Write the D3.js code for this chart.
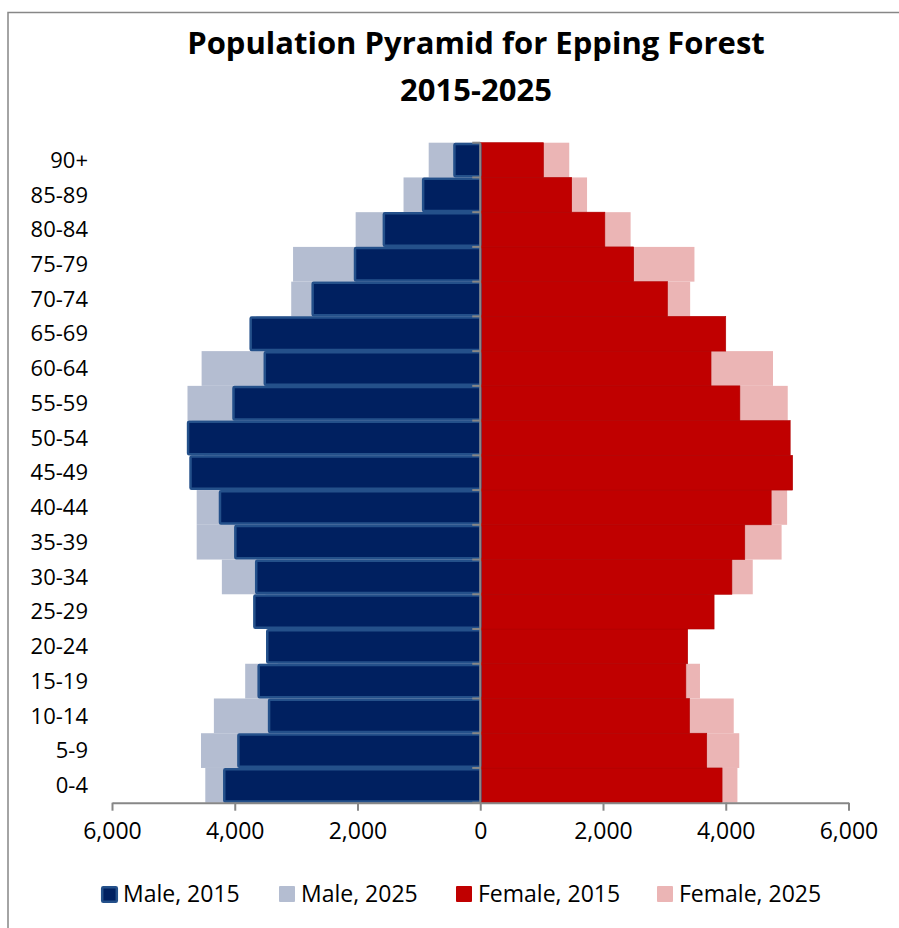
<!DOCTYPE html>
<html>
<head>
<meta charset="utf-8">
<script src="https://cdn.jsdelivr.net/npm/d3@7"></script>
<style>
  body { margin: 0; background: #fff; }
  svg text { font-family: "Open Sans", "Noto Sans", sans-serif; fill: #000; }
</style>
</head>
<body>
<div id="chart"></div>
<script>
(function () {
    'use strict';

    // age bands, bottom to top
    var ageGroups = ["0-4", "5-9", "10-14", "15-19", "20-24", "25-29", "30-34", "35-39",
        "40-44", "45-49", "50-54", "55-59", "60-64", "65-69", "70-74", "75-79",
        "80-84", "85-89", "90+"];

    var male2015 = [4190, 3960, 3460, 3630, 3490, 3700, 3670, 4010,
        4260, 4740, 4780, 4040, 3530, 3760, 2750, 2060, 1590, 950, 440];
    var male2025 = [4480, 4550, 4340, 3830, 3300, 3500, 4210, 4620,
        4620, 4500, 4700, 4770, 4540, 3650, 3080, 3050, 2030, 1250, 840];
    var female2015 = [3940, 3690, 3410, 3350, 3380, 3810, 4100, 4310,
        4740, 5090, 5050, 4230, 3760, 4000, 3050, 2500, 2030, 1490, 1030];
    var female2025 = [4190, 4220, 4130, 3580, 3300, 3700, 4440, 4910,
        5000, 4800, 4950, 5010, 4770, 3900, 3420, 3490, 2450, 1740, 1450];

    var xTicks = [-6000, -4000, -2000, 0, 2000, 4000, 6000];

    var legendItems = [
        {label: "Male, 2015", fill: "#002060", stroke: "#24508a", x: 101},
        {label: "Male, 2025", fill: "#b4bdd1", stroke: "none", x: 279},
        {label: "Female, 2015", fill: "#c00000", stroke: "none", x: 456},
        {label: "Female, 2025", fill: "#ebb5b5", stroke: "none", x: 657}
    ];

    var width = 899, height = 928;

    var svg = d3.select("#chart")
        .append("svg")
        .attr("width", width)
        .attr("height", height);

    // chart border (runs off the right and bottom edge in the original)
    svg.append("rect")
        .attr("x", 8)
        .attr("y", 12.5)
        .attr("width", 900)
        .attr("height", 930)
        .attr("fill", "none")
        .attr("stroke", "#878787")
        .attr("stroke-width", 1.5);

    // title
    svg.append("text")
        .attr("x", 476)
        .attr("y", 54)
        .attr("text-anchor", "middle")
        .style("font-size", "31px")
        .style("font-weight", "bold")
        .text("Population Pyramid for Epping Forest");
    svg.append("text")
        .attr("x", 476)
        .attr("y", 101)
        .attr("text-anchor", "middle")
        .style("font-size", "31px")
        .style("font-weight", "bold")
        .text("2015-2025");

    var x = d3.scaleLinear()
        .domain([-6000, 6000])
        .range([112, 848.5]);

    var y = d3.scaleBand()
        .domain(ageGroups)
        .range([802.7, 142.7])
        .padding(0);

    var rows = ageGroups.map(function (g, i) {
        return {
            group: g,
            m15: male2015[i], m25: male2025[i],
            f15: female2015[i], f25: female2025[i]
        };
    });

    // 2025 bars sit behind the 2015 bars
    svg.selectAll("rect.m25")
        .data(rows)
        .enter()
        .append("rect")
        .attr("class", "m25")
        .attr("x", function (d) { return x(-d.m25); })
        .attr("y", function (d) { return y(d.group); })
        .attr("width", function (d) { return x(0) - x(-d.m25); })
        .attr("height", y.bandwidth())
        .attr("fill", "#b4bdd1");

    svg.selectAll("rect.f25")
        .data(rows)
        .enter()
        .append("rect")
        .attr("class", "f25")
        .attr("x", x(0))
        .attr("y", function (d) { return y(d.group); })
        .attr("width", function (d) { return x(d.f25) - x(0); })
        .attr("height", y.bandwidth())
        .attr("fill", "#ebb5b5");

    svg.selectAll("rect.f15")
        .data(rows)
        .enter()
        .append("rect")
        .attr("class", "f15")
        .attr("x", x(0))
        .attr("y", function (d) { return y(d.group); })
        .attr("width", function (d) { return x(d.f15) - x(0); })
        .attr("height", y.bandwidth())
        .attr("fill", "#c00000")
        .attr("stroke", "#b00000")
        .attr("stroke-width", 0.6);

    svg.selectAll("rect.m15")
        .data(rows)
        .enter()
        .append("rect")
        .attr("class", "m15")
        .attr("x", function (d) { return x(-d.m15) + 1.2; })
        .attr("y", function (d) { return y(d.group) + 1.2; })
        .attr("width", function (d) { return x(0) - x(-d.m15) - 1.2; })
        .attr("height", y.bandwidth() - 2.4)
        .attr("rx", 1)
        .attr("fill", "#002060")
        .attr("stroke", "#24508a")
        .attr("stroke-width", 2.5);

    // horizontal axis
    var xAxis = d3.axisBottom(x)
        .tickValues(xTicks)
        .tickSizeInner(8)
        .tickSizeOuter(0)
        .tickPadding(12)
        .tickFormat(function (d) { return d3.format(",")(Math.abs(d)); });

    var gx = svg.append("g")
        .attr("transform", "translate(0," + 802.7 + ")")
        .call(xAxis);
    gx.select(".domain").attr("stroke", "#878787").attr("stroke-width", 2);
    gx.selectAll(".tick line").attr("stroke", "#878787").attr("stroke-width", 2);
    gx.selectAll(".tick text")
        .style("font-size", "23px")
        .attr("dy", "0.71em");

    // vertical axis at zero, ticks on band edges
    var edges = ageGroups.map(function (g) { return y(g); }).concat([y.range()[0]]);
    svg.append("line")
        .attr("x1", x(0)).attr("x2", x(0))
        .attr("y1", y.range()[1]).attr("y2", y.range()[0])
        .attr("stroke", "#878787")
        .attr("stroke-width", 2);
    svg.selectAll("line.ytick")
        .data(edges)
        .enter()
        .append("line")
        .attr("class", "ytick")
        .attr("x1", x(0) - 8).attr("x2", x(0))
        .attr("y1", function (d) { return d; })
        .attr("y2", function (d) { return d; })
        .attr("stroke", "#878787")
        .attr("stroke-width", 2);

    // category labels
    svg.selectAll("text.cat")
        .data(ageGroups)
        .enter()
        .append("text")
        .attr("class", "cat")
        .attr("x", 88)
        .attr("y", function (d) { return y(d) + y.bandwidth() / 2; })
        .attr("dy", "0.35em")
        .attr("text-anchor", "end")
        .style("font-size", "22px")
        .text(function (d) { return d; });

    // legend
    var lg = svg.selectAll("g.legend")
        .data(legendItems)
        .enter()
        .append("g")
        .attr("class", "legend")
        .attr("transform", function (d) { return "translate(" + d.x + ",886)"; });
    lg.append("rect")
        .attr("x", function (d) { return d.stroke === "none" ? 0 : 1.2; })
        .attr("y", function (d) { return d.stroke === "none" ? 0 : 1.2; })
        .attr("width", function (d) { return d.stroke === "none" ? 16 : 14.6; })
        .attr("height", function (d) { return d.stroke === "none" ? 16 : 14.6; })
        .attr("rx", 1)
        .attr("fill", function (d) { return d.fill; })
        .attr("stroke", function (d) { return d.stroke; })
        .attr("stroke-width", 2.5);
    lg.append("text")
        .attr("x", 22)
        .attr("y", 8)
        .attr("dy", "0.36em")
        .style("font-size", "23px")
        .text(function (d) { return d.label; });
}());
</script>
</body>
</html>
